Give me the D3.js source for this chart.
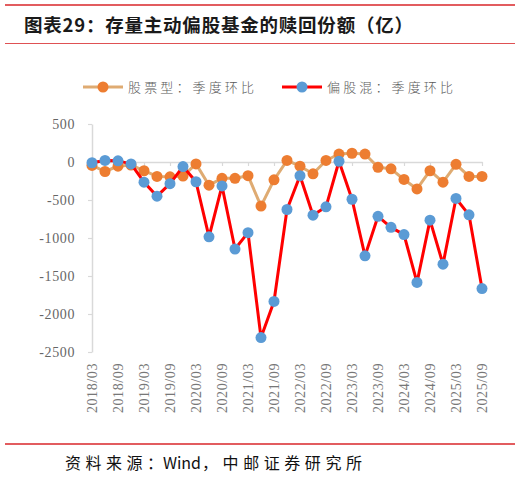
<!DOCTYPE html>
<html><head><meta charset="utf-8">
<script src="https://cdn.jsdelivr.net/npm/d3@7"></script>
<style>body{margin:0;background:#fff}svg{display:block}</style>
</head><body>
<svg id="chart" width="520" height="479"></svg>
<script>
const categories = ["2018/03","2018/06","2018/09","2018/12","2019/03","2019/06","2019/09","2019/12",
  "2020/03","2020/06","2020/09","2020/12","2021/03","2021/06","2021/09","2021/12",
  "2022/03","2022/06","2022/09","2022/12","2023/03","2023/06","2023/09","2023/12",
  "2024/03","2024/06","2024/09","2024/12","2025/03","2025/06","2025/09"];
const tickLabels = ["2018/03","2018/09","2019/03","2019/09","2020/03","2020/09","2021/03","2021/09",
  "2022/03","2022/09","2023/03","2023/09","2024/03","2024/09","2025/03","2025/09"];
const stockFund = [-45,-125,-55,-40,-115,-190,-195,-185,-25,-305,-215,-215,-180,-580,-235,20,
  -55,-155,20,105,115,105,-70,-90,-230,-355,-115,-265,-30,-190,-190];
const mixedFund = [-10,20,15,-25,-265,-450,-285,-60,-260,-985,-315,-1145,-930,-2310,-1835,-625,
  -180,-700,-590,10,-490,-1235,-715,-860,-955,-1585,-765,-1345,-480,-695,-1665];
const yTicks = [500,0,-500,-1000,-1500,-2000,-2500];
const seriesNames = ["股票型：季度环比","偏股混：季度环比"];

const svg = d3.select("#chart");
const red = "#d8262a";
// frame lines
svg.append("line").attr("x1",5).attr("x2",515).attr("y1",5).attr("y2",5).attr("stroke",red).attr("stroke-width",1.5);
svg.append("line").attr("x1",5).attr("x2",515).attr("y1",43.5).attr("y2",43.5).attr("stroke",red).attr("stroke-width",1.2).attr("opacity",0.8);
svg.append("line").attr("x1",5).attr("x2",515).attr("y1",444).attr("y2",444).attr("stroke",red).attr("stroke-width",1.5);

svg.append("text").attr("x",24).attr("y",31.5)
  .attr("font-family","'Noto Sans CJK SC'").attr("font-weight","bold").attr("font-size",18.5)
  .attr("fill","#1a1a1a").attr("textLength",389).attr("lengthAdjust","spacing")
  .text("图表29：存量主动偏股基金的赎回份额（亿）");

[["资料来源：",65,98],["Wind",163,38],["，中邮证券研究所",202,160]].forEach(([t,x0,len])=>{
  svg.append("text").attr("x",x0).attr("y",469)
    .attr("font-family","'Noto Sans CJK SC'").attr("font-size",16)
    .attr("fill","#111").attr("textLength",len).attr("lengthAdjust","spacing").text(t);
});

const x = d3.scalePoint().domain(categories).range([92,482]).padding(0);
const y = d3.scaleLinear().domain([-2500,500]).range([352,124]);

// y axis
const yAxis = svg.append("g").attr("transform","translate(92,0)")
  .call(d3.axisLeft(y).tickValues(yTicks).tickSize(4).tickSizeOuter(0).tickPadding(13).tickFormat(d3.format("d")));
yAxis.select(".domain").attr("stroke","#d9d9d9").attr("stroke-width",1.5);
yAxis.selectAll(".tick line").attr("stroke","#d9d9d9").attr("stroke-width",1.2);
yAxis.selectAll(".tick text").attr("font-family","'Liberation Serif'").attr("font-size",14)
  .attr("fill","#666").attr("letter-spacing","0.6px").text(d=>d<0?"-"+Math.abs(d):d);

// x axis at zero
const evenCats = categories.filter((c,i)=>i%2===0);
const xAxis = svg.append("g").attr("transform",`translate(0,${y(0)})`)
  .call(d3.axisBottom(x).tickValues(evenCats).tickSize(4).tickSizeOuter(0).tickFormat(""));
xAxis.select(".domain").attr("stroke","#d9d9d9").attr("stroke-width",1.5);
xAxis.selectAll(".tick line").attr("stroke","#d9d9d9").attr("stroke-width",1.2);

// x labels at bottom
svg.append("g").selectAll("text").data(tickLabels).join("text")
  .attr("transform",d=>`translate(${x(d)},363) rotate(-90)`)
  .attr("text-anchor","end").attr("dy","0.35em")
  .attr("font-family","'Liberation Serif'").attr("font-size",14).attr("fill","#777")
  .attr("letter-spacing","0.6px").text(d=>d);

const line = d3.line().x((d,i)=>x(categories[i])).y(d=>y(d));
function drawSeries(vals, lc, mc){
  svg.append("path").datum(vals).attr("d",line).attr("fill","none").attr("stroke",lc)
    .attr("stroke-width",3).attr("stroke-linejoin","round");
  svg.append("g").selectAll("circle").data(vals).join("circle")
    .attr("cx",(d,i)=>x(categories[i])).attr("cy",d=>y(d)).attr("r",5.5).attr("fill",mc);
}
drawSeries(stockFund,"#dfab72","#ed7d31");
drawSeries(mixedFund,"#ff0000","#5b9bd5");

// legend
const legend = [
  {name:seriesNames[0], lc:"#dfab72", mc:"#ed7d31", x0:83, tx:128},
  {name:seriesNames[1], lc:"#ff0000", mc:"#5b9bd5", x0:282, tx:327}
];
legend.forEach(l=>{
  svg.append("line").attr("x1",l.x0).attr("x2",l.x0+40).attr("y1",87).attr("y2",87).attr("stroke",l.lc).attr("stroke-width",3);
  svg.append("circle").attr("cx",l.x0+20).attr("cy",87).attr("r",5.5).attr("fill",l.mc);
  svg.append("text").attr("x",l.tx).attr("y",87).attr("dy","0.36em")
    .attr("font-family","'Noto Sans CJK SC'").attr("font-weight",300).attr("font-size",13)
    .attr("fill","#595959").attr("textLength",126).attr("lengthAdjust","spacing").text(l.name);
});
</script>
</body></html>
